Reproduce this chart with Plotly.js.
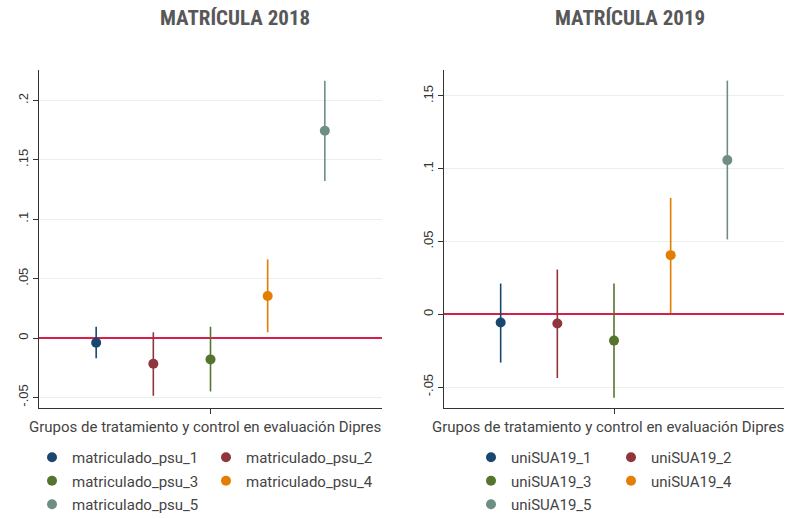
<!DOCTYPE html>
<html>
<head>
<meta charset="utf-8">
<script src="https://cdn.plot.ly/plotly-3.0.1.min.js"></script>
<style>html,body{margin:0;padding:0;background:#fff;}#chart{width:797px;height:519px;}</style>
</head>
<body>
<div id="chart"></div>
<script>
// ---- Data ----
const labels2018 = ["matriculado_psu_1","matriculado_psu_2","matriculado_psu_3","matriculado_psu_4","matriculado_psu_5"];
const est2018 = [-0.004, -0.0216, -0.018, 0.0354, 0.1745];
const lo2018  = [-0.017, -0.0486, -0.045, 0.0048, 0.1322];
const hi2018  = [0.0095, 0.0048, 0.0095, 0.0662, 0.2166];

const labels2019 = ["uniSUA19_1","uniSUA19_2","uniSUA19_3","uniSUA19_4","uniSUA19_5"];
const est2019 = [-0.0057, -0.0064, -0.0181, 0.0406, 0.1059];
const lo2019  = [-0.0332, -0.0438, -0.0573, 0.0009, 0.0514];
const hi2019  = [0.0211, 0.0307, 0.0211, 0.0800, 0.1605];

const colors = ["#1a476f", "#90353b", "#55752f", "#e37e00", "#6e8e84"];

const yTicks2018 = [-0.05, 0, 0.05, 0.1, 0.15, 0.2];
const yTickText2018 = ["-.05", "0", ".05", ".1", ".15", ".2"];
const yTicks2019 = [-0.05, 0, 0.05, 0.1, 0.15];
const yTickText2019 = ["-.05", "0", ".05", ".1", ".15"];

const title2018 = "MATRÍCULA 2018";
const title2019 = "MATRÍCULA 2019";
const xTitle = "Grupos de tratamiento y control en evaluación Dipres";

// ---- Build traces ----
function buildTraces(labels, est, lo, hi, xa, ya, legA, legB) {
  return labels.map((name, i) => ({
    type: "scatter",
    mode: "markers",
    name: name,
    x: [i + 1],
    y: [est[i]],
    xaxis: xa,
    yaxis: ya,
    legend: (i % 2 === 0) ? legA : legB,
    legendgroup: name,
    marker: { color: colors[i], size: 10 },
    error_y: {
      type: "data",
      symmetric: false,
      array: [hi[i] - est[i]],
      arrayminus: [est[i] - lo[i]],
      color: colors[i],
      thickness: 1.6,
      width: 0
    },
    hoverinfo: "name+y"
  }));
}

const traces = [].concat(
  buildTraces(labels2018, est2018, lo2018, hi2018, "x", "y", "legend", "legend2"),
  buildTraces(labels2019, est2019, lo2019, hi2019, "x2", "y2", "legend3", "legend4")
);

const W = 797, H = 519;
const px = v => v / W;
const py = v => 1 - v / H;

const tickFont = { family: "Liberation Sans, Arial, sans-serif", size: 13, color: "#333" };
const legendFont = { family: "Roboto, sans-serif", size: 15, color: "#444" };
const titleFont = { family: "Roboto Condensed, Liberation Sans Narrow, DejaVu Sans Condensed, Roboto, sans-serif", size: 21, color: "#585858", weight: 700 };

function xAxis(domain) {
  return {
    domain: domain, range: [0, 6], showgrid: false, zeroline: false,
    showline: true, linecolor: "#333", linewidth: 1,
    tickvals: [3], ticktext: [""], ticks: "outside", ticklen: 5, tickcolor: "#333",
    fixedrange: true
  };
}
function yAxis(domain, range, tv, tt, anchor) {
  return {
    domain: domain, range: range, anchor: anchor,
    showline: true, linecolor: "#333", linewidth: 1,
    tickvals: tv, ticktext: tt, ticks: "outside", ticklen: 5, tickcolor: "#333",
    tickangle: -90, tickfont: tickFont,
    showgrid: true, gridcolor: "#eaf0f0", gridwidth: 1,
    zeroline: true, zerolinecolor: "#d6204b", zerolinewidth: 2,
    fixedrange: true
  };
}

function leg(xLeft, yTop) {
  return {
    x: px(xLeft), y: py(yTop), xanchor: "left", yanchor: "top",
    orientation: "v", font: legendFont, bgcolor: "rgba(0,0,0,0)",
    borderwidth: 0, tracegroupgap: 1, itemclick: false, itemdoubleclick: false
  };
}

const layout = {
  width: W, height: H,
  margin: { l: 0, r: 0, t: 0, b: 0, autoexpand: false },
  paper_bgcolor: "#fff", plot_bgcolor: "#fff",
  showlegend: true,
  xaxis: Object.assign(xAxis([px(39), px(382)]), { anchor: "y" }),
  yaxis: yAxis([py(408), py(70)], [-0.0589, 0.2256], yTicks2018, yTickText2018, "x"),
  xaxis2: Object.assign(xAxis([px(444), px(784)]), { anchor: "y2" }),
  yaxis2: yAxis([py(408), py(70)], [-0.0644, 0.1678], yTicks2019, yTickText2019, "x2"),
  legend: leg(32, 441),
  legend2: leg(206, 441),
  legend3: leg(471, 441),
  legend4: leg(611, 441),
  annotations: [
    { text: "<b>" + title2018 + "</b>", xref: "paper", yref: "paper", x: px(234.5), y: py(18), xanchor: "center", yanchor: "middle", showarrow: false, font: titleFont },
    { text: "<b>" + title2019 + "</b>", xref: "paper", yref: "paper", x: px(629.5), y: py(18), xanchor: "center", yanchor: "middle", showarrow: false, font: titleFont },
    { text: xTitle, xref: "paper", yref: "paper", x: px(204.5), y: py(427), xanchor: "center", yanchor: "middle", showarrow: false, font: { family: "Roboto, sans-serif", size: 15, color: "#444" } },
    { text: xTitle, xref: "paper", yref: "paper", x: px(608), y: py(427), xanchor: "center", yanchor: "middle", showarrow: false, font: { family: "Roboto, sans-serif", size: 15, color: "#444" } }
  ]
};

Plotly.newPlot("chart", traces, layout, { displayModeBar: false, staticPlot: true });
</script>
</body>
</html>
